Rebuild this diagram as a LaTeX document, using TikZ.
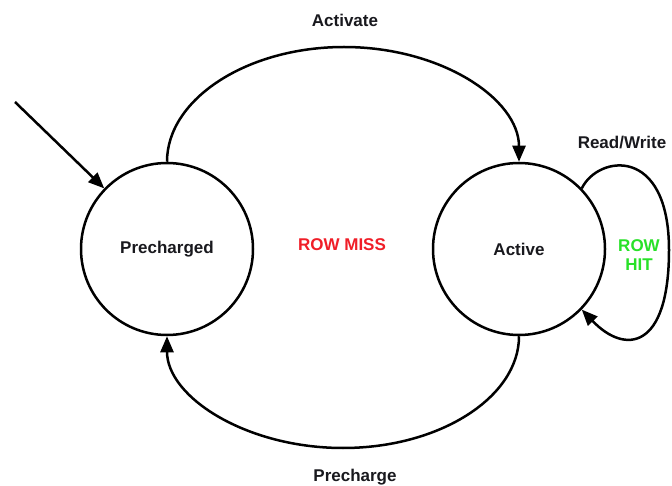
\documentclass[tikz,border=0pt]{standalone}
\usepackage{fontspec}
\setmainfont{Liberation Sans}
\usetikzlibrary{arrows.meta}
\definecolor{missred}{RGB}{240,30,40}
\definecolor{hitgreen}{RGB}{40,225,40}
\definecolor{inkgray}{RGB}{25,25,30}
\begin{document}
\begin{tikzpicture}[x=1pt,y=-1pt,
  state/.style={circle,draw,line width=2.5pt,minimum size=172pt,inner sep=0pt,
    font=\fontsize{17}{19}\selectfont\bfseries,text=inkgray},
  trans/.style={line width=2.5pt,-{Triangle[length=16pt,width=13pt]}},
  lbl/.style={font=\fontsize{17}{19}\selectfont\bfseries,text=inkgray,inner sep=0pt,align=center}]
\useasboundingbox (0,0) rectangle (672,486);
\fill[white] (0,0) rectangle (672,486);

% the two states
\node[state] (pre) at (167,249) {Precharged};
\node[state] (act) at (519,249) {Active};

% helper points along the transitions
\coordinate (init) at (15,102);
\coordinate (topmid) at (344,47);
\coordinate (botmid) at (343,448);
\coordinate (loopright) at (669,250);

% initial transition
\draw[trans] (init) -- (pre.136);

% Activate: Precharged -> Active
\draw[trans] (pre.north) .. controls (167,99) and (247,47) .. (topmid)
  .. controls (441,47) and (519,99) .. (act.north);

% Precharge: Active -> Precharged
\draw[trans] (act.south) .. controls (519,397) and (440,448) .. (botmid)
  .. controls (246,448) and (167,397) .. (pre.south);

% Read/Write self loop on Active
\draw[trans] (act.44) .. controls (598,155) and (669,145) .. (loopright)
  .. controls (669,350) and (625,355) .. (act.-44);

% labels
\node[lbl] (lact) at (345,20) {Activate};
\node[lbl] (lpre) at (355,477) {Precharge};
\node[lbl] (lrw) at (622,143) {Read/Write};
\node[lbl,text=missred] (lmiss) at (342,245) {ROW MISS};
\node[lbl,text=hitgreen] (lhit) at (639,255) {ROW\\HIT};
\end{tikzpicture}
\end{document}
